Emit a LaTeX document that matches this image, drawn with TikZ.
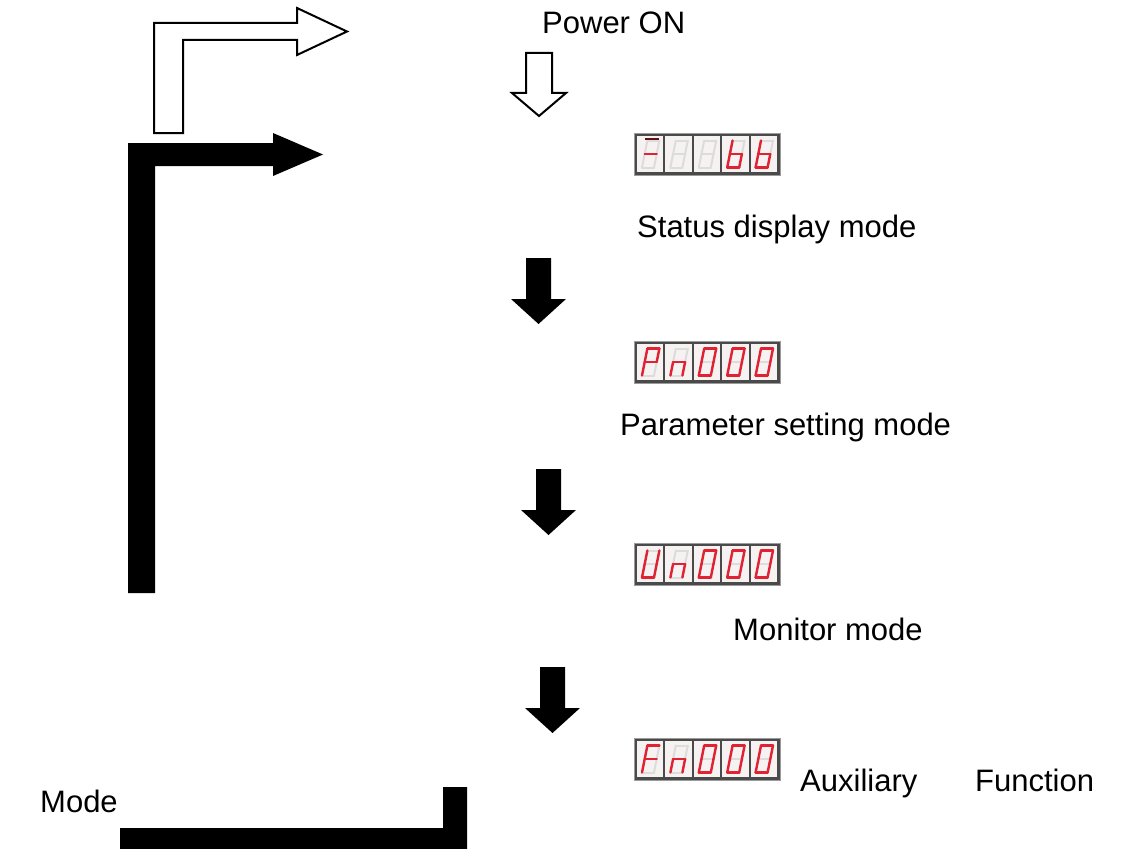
\documentclass[tikz,border=0pt]{standalone}
\usepackage{fontspec}
\setmainfont{Liberation Sans}
\usetikzlibrary{calc}
\definecolor{ledred}{HTML}{E02233}
\definecolor{ledoff}{HTML}{DCDCDC}
\definecolor{dispframe}{HTML}{4A4A4A}
\definecolor{cellbg}{HTML}{F6F2F2}
\tikzset{
  lbl/.style={inner sep=0pt, anchor=base west, font=\fontsize{31}{37}\selectfont},
  hollowarrow/.style={draw=black, line width=2pt, fill=white, line join=miter},
  blackarrow/.style={fill=black, draw=none},
  display/.style={draw=dispframe!55, fill=dispframe, line width=1.2pt, minimum width=146pt, minimum height=42pt, inner sep=0pt, anchor=north west},
  lit/.style={draw=ledred, line width=2.4pt, line cap=round},
  unlit/.style={draw=ledoff, line width=2pt, line cap=round},
}
\newcommand\segZero{TL/TR,TR/MR,MR/BR,BL/BR,ML/BL,TL/ML}
\newcommand\segP{TL/TR,TR/MR,ML/MR,ML/BL,TL/ML}
\newcommand\segn{ML/MR,MR/BR,ML/BL}
\newcommand\segU{TR/MR,MR/BR,BL/BR,ML/BL,TL/ML}
\newcommand\segF{TL/TR,ML/MR,ML/BL,TL/ML}
\newcommand\segb{TL/ML,ML/BL,BL/BR,MR/BR,ML/MR}
\newcommand\segDash{ML/MR}
% #1 display node, #2 cell index (0..4)
\newcommand\ledbase[2]{%
  \fill[cellbg] ({3+28.4*#2},3) rectangle ({29.4+28.4*#2},39);
  \coordinate (TL) at ({13.4+28.4*#2},7.5);
  \coordinate (TR) at ({25.4+28.4*#2},7.5);
  \coordinate (ML) at ({10.7+28.4*#2},21);
  \coordinate (MR) at ({22.7+28.4*#2},21);
  \coordinate (BL) at ({8+28.4*#2},34.5);
  \coordinate (BR) at ({20+28.4*#2},34.5);
  \foreach \p/\q in {TL/TR,TR/MR,MR/BR,BL/BR,ML/BL,TL/ML,ML/MR} \draw[unlit] (\p) -- (\q);
}
\newcommand\ledcell[3]{%
  \begin{scope}[shift={(#1.north west)}]
    \ledbase{#1}{#2}
    \foreach \p/\q in #3 \draw[lit] (\p) -- (\q);
  \end{scope}}
\newcommand\ledblank[2]{%
  \begin{scope}[shift={(#1.north west)}]
    \ledbase{#1}{#2}
  \end{scope}}
\begin{document}
\begin{tikzpicture}[x=1pt, y=-1pt]
  \useasboundingbox (0,0) rectangle (1126,848);
  \fill[white] (0,0) rectangle (1126,848);

  % texts
  \node[lbl] (power) at (542,34) {Power ON};
  \node[lbl] (status) at (637,237) {Status display mode};
  \node[lbl] (param) at (620,435) {Parameter setting mode};
  \node[lbl] (monitor) at (733,640) {Monitor mode};
  \node[lbl] (aux) at (800,791) {Auxiliary};
  \node[lbl] (func) at (975,791) {Function};
  \node[lbl] (mode) at (40,812) {Mode};

  % displays
  \node[display] (d1) at (634,133) {};
  \node[display] (d2) at (634,341) {};
  \node[display] (d3) at (634,543) {};
  \node[display] (d4) at (634,738) {};

  \ledcell{d1}{0}{\segDash}
  \begin{scope}[shift={(d1.north west)}]
    \draw[draw=ledred!45!black, line width=2.6pt] ({13.4-2},6) -- (25.4,6);
  \end{scope}
  \ledblank{d1}{1}
  \ledblank{d1}{2}
  \ledcell{d1}{3}{\segb}
  \ledcell{d1}{4}{\segb}

  \ledcell{d2}{0}{\segP}
  \ledcell{d2}{1}{\segn}
  \ledcell{d2}{2}{\segZero}
  \ledcell{d2}{3}{\segZero}
  \ledcell{d2}{4}{\segZero}

  \ledcell{d3}{0}{\segU}
  \ledcell{d3}{1}{\segn}
  \ledcell{d3}{2}{\segZero}
  \ledcell{d3}{3}{\segZero}
  \ledcell{d3}{4}{\segZero}

  \ledcell{d4}{0}{\segF}
  \ledcell{d4}{1}{\segn}
  \ledcell{d4}{2}{\segZero}
  \ledcell{d4}{3}{\segZero}
  \ledcell{d4}{4}{\segZero}

  % hollow L arrow (top left)
  \draw[hollowarrow] (154,133) -- (154,23) -- (297,23) -- (297,8) -- (347,31.5)
    -- (297,55) -- (297,40) -- (183,40) -- (183,133) -- cycle;
  % black L arrow
  \fill[blackarrow] (128,593) -- (128,143) -- (273,143) -- (273,133) -- (323,154.5)
    -- (273,176) -- (273,166) -- (155,166) -- (155,593) -- cycle;
  % hollow down arrow
  \draw[hollowarrow] (526,53) -- (552,53) -- (552,93) -- (566,93) -- (539,116)
    -- (512,93) -- (526,93) -- cycle;
  % black down arrows
  \fill[blackarrow] (526,258) -- (551,258) -- (551,299) -- (566,299) -- (538.5,324)
    -- (511,299) -- (526,299) -- cycle;
  \fill[blackarrow] (536,469) -- (561,469) -- (561,510) -- (576,510) -- (548.5,535)
    -- (521,510) -- (536,510) -- cycle;
  \fill[blackarrow] (540,667) -- (565,667) -- (565,708) -- (580,708) -- (552.5,733)
    -- (525,708) -- (540,708) -- cycle;
  % bottom black L bar
  \fill[blackarrow] (443,787) -- (467,787) -- (467,850) -- (120,850) -- (120,828)
    -- (443,828) -- cycle;
\end{tikzpicture}
\end{document}
